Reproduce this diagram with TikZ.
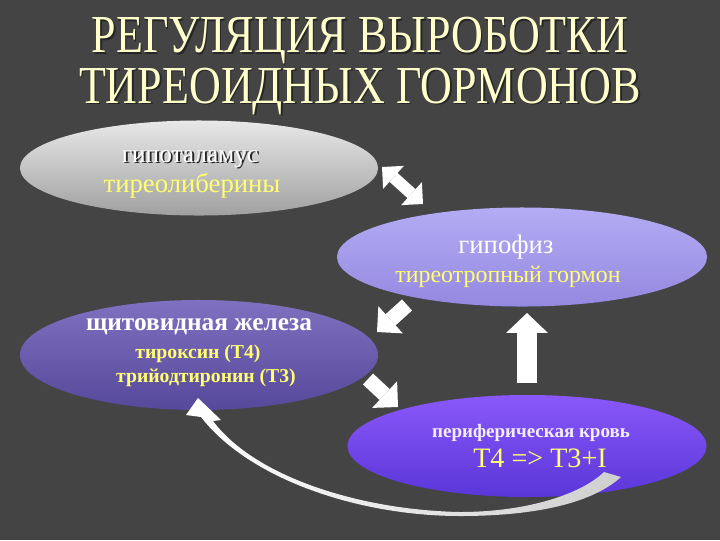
\documentclass[tikz,border=0pt]{standalone}
\usepackage{fontspec}
\setmainfont{Liberation Serif}
\usepackage{tikz}
\usetikzlibrary{shapes.geometric,arrows.meta}
\definecolor{slide}{HTML}{444444}
\definecolor{titlecol}{HTML}{FFFFCC}
\definecolor{hormone}{HTML}{FFFF70}
\definecolor{hypotop}{HTML}{E8E8E8}
\definecolor{hypobot}{HTML}{A0A0A0}
\definecolor{pitutop}{HTML}{B4ACF4}
\definecolor{pitubot}{HTML}{9488E0}
\definecolor{thytop}{HTML}{8070C0}
\definecolor{thybot}{HTML}{56489A}
\definecolor{bloodtop}{HTML}{8A58FA}
\definecolor{bloodbot}{HTML}{5A36D8}
\definecolor{bloodtext}{HTML}{F4EEFF}
\definecolor{tailgrey}{HTML}{CFCFCF}
\tikzset{organ/.style={ellipse, inner sep=0pt}}
\tikzset{fat-arrow/.style={white, line cap=butt, line width=10.6pt,
    -{Triangle[length=13pt, width=26pt, line width=0pt]}}}
\tikzset{thin-fat-arrow/.style={white, line cap=butt, line width=8.5pt,
    {Triangle[length=11pt, width=22pt, line width=0pt]}-{Triangle[length=11pt, width=22pt, line width=0pt]}}}
\newcommand{\shtext}[1]{\makebox[0pt][l]{\hspace{1.4pt}\raisebox{-1.4pt}{\color{black!85}#1}}#1}

\begin{document}
\begin{tikzpicture}[x=0.025cm, y=-0.025cm]
      \fill[slide] (0,0) rectangle (720,540);
      \useasboundingbox (0,0) rectangle (720,540);

      % title
      \node[anchor=base, align=center, inner sep=0pt, text=titlecol, font=\fontsize{38}{32}\selectfont, xscale=0.825] (title) at (360,103)
        {\shtext{РЕГУЛЯЦИЯ ВЫРОБОТКИ}\\\shtext{ТИРЕОИДНЫХ ГОРМОНОВ}};

      % organs
      \node[organ, minimum width=8.95cm, minimum height=2.375cm, top color=hypotop, bottom color=hypobot] (hypo) at (199,168) {};
      \node[organ, minimum width=9.25cm, minimum height=2.475cm, top color=pitutop, bottom color=pitubot] (pitu) at (522,257) {};
      \node[organ, minimum width=8.95cm, minimum height=2.75cm, top color=thytop, bottom color=thybot] (thy) at (199,355) {};
      \node[organ, minimum width=8.975cm, minimum height=2.55cm, top color=bloodtop, bottom color=bloodbot] (blood) at (527,446) {};

      \node[anchor=base, text=white, font=\fontsize{18}{18}\selectfont] (hypoName) at (190,162) {\shtext{гипоталамус}};
      \node[anchor=base, text=hormone, font=\fontsize{19}{19}\selectfont] (hypoHorm) at (192,192) {тиреолиберины};
      \node[anchor=base, text=white, font=\fontsize{19}{19}\selectfont] (pituName) at (506,253) {гипофиз};
      \node[anchor=base, text=hormone, font=\fontsize{17}{17}\selectfont] (pituHorm) at (508,282) {тиреотропный гормон};
      \node[anchor=base, text=white, font=\bfseries\fontsize{18}{18}\selectfont] (thyName) at (199,330) {щитовидная железа};
      \node[anchor=base, text=hormone, font=\bfseries\fontsize{14}{14}\selectfont] (thyT4) at (198,358) {тироксин (Т4)};
      \node[anchor=base, text=hormone, font=\bfseries\fontsize{14}{14}\selectfont] (thyT3) at (206,382) {трийодтиронин (Т3)};
      \node[anchor=base, text=bloodtext, font=\bfseries\fontsize{13.5}{13.5}\selectfont] (bloodName) at (531,437) {периферическая кровь};
      \node[anchor=base, text=hormone, font=\fontsize{20}{20}\selectfont] (bloodEq) at (540,467) {Т4 => Т3+I};

      % block arrows
      \coordinate (dblA) at (382,167);
      \coordinate (dblB) at (423,204);
      \coordinate (swTail) at (407,305);
      \coordinate (swTip) at (377,332);
      \coordinate (seTail) at (368,379);
      \coordinate (seTip) at (398,407);
      \coordinate (upTail) at (527,383);
      \coordinate (upTip) at (527,313);

      \draw[thin-fat-arrow] (dblA) -- (dblB);
      \draw[fat-arrow] (swTail) -- (swTip);
      \draw[fat-arrow] (seTail) -- (seTip);
      \draw[fat-arrow, line width=14.9pt, -{Triangle[length=14.2pt, width=29.8pt, line width=0pt]}] (upTail) -- (upTip);

      % return arrow
      \shade[left color=white, right color=tailgrey]
        (198,398) -- (221,420) -- (213,421)
        .. controls (255,477) and (360,510) .. (460,512)
        .. controls (525,512) and (580,495) .. (604,472)
        -- (621,477)
        .. controls (590,505) and (530,516) .. (460,516)
        .. controls (360,516) and (250,480) .. (201,417)
        -- (186,415) -- cycle;
    \end{tikzpicture}
\end{document}
